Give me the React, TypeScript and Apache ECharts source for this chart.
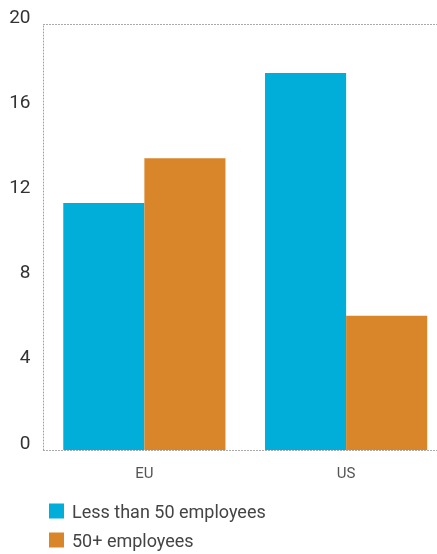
import React, { useEffect, useRef } from "react";
import * as echarts from "echarts";

const categories = ["EU", "US"];
const seriesNames = ["Less than 50 employees", "50+ employees"];
const smallFirms = [11.6, 17.7];
const largeFirms = [13.7, 6.3];
const yTicks = { min: 0, max: 20, interval: 4 };

const FONT = "Roboto, 'Liberation Sans', sans-serif";

export default function App() {
  const ref = useRef<HTMLDivElement>(null);
  useEffect(() => {
    if (!ref.current) return;
    const chart = echarts.init(ref.current, undefined, { renderer: "svg" });
    const dotted = { color: "#a0a0a0", width: 1, type: [1, 2] };
    const legendBase = {
      orient: "horizontal",
      left: 44,
      itemWidth: 15,
      itemHeight: 15,
      icon: "rect",
      textStyle: { fontFamily: FONT, fontSize: 18, color: "#444", padding: [0, 0, 0, 3] },
    };
    chart.setOption({
      animation: false,
      textStyle: { fontFamily: FONT },
      grid: { left: 43.5, top: 24, right: -10, bottom: 104, outerBoundsMode: "none", containLabel: false },
      legend: [
        { ...legendBase, top: 497, data: [seriesNames[0]] },
        { ...legendBase, top: 526, data: [seriesNames[1]] },
      ],
      xAxis: [
        {
          type: "category",
          data: categories,
          axisLine: { show: true, lineStyle: dotted },
          axisTick: { show: false },
          axisLabel: { fontFamily: FONT, fontSize: 15, color: "#555", margin: 15 },
        },
        {
          type: "category",
          position: "top",
          data: categories,
          axisLine: { show: true, lineStyle: dotted },
          axisTick: { show: false },
          axisLabel: { show: false },
        },
      ],
      yAxis: {
        type: "value",
        min: yTicks.min,
        max: yTicks.max,
        interval: yTicks.interval,
        axisLine: { show: true, lineStyle: dotted },
        axisTick: { show: false },
        splitLine: { show: false },
        axisLabel: {
          fontFamily: FONT,
          fontSize: 19,
          color: "#333",
          margin: 13,
          verticalAlign: "bottom",
          lineHeight: 16,
        },
      },
      series: [
        {
          name: seriesNames[0],
          type: "bar",
          data: smallFirms,
          itemStyle: { color: "#00aed9" },
          barGap: "0%",
          barCategoryGap: "19.6%",
        },
        {
          name: seriesNames[1],
          type: "bar",
          data: largeFirms,
          itemStyle: { color: "#d9852a" },
          barGap: "0%",
          barCategoryGap: "19.6%",
        },
      ],
    });
    return () => chart.dispose();
  }, []);
  return (
    <div
      ref={ref}
      style={{ position: "fixed", left: 0, top: 0, width: 437, height: 554 }}
    />
  );
}
